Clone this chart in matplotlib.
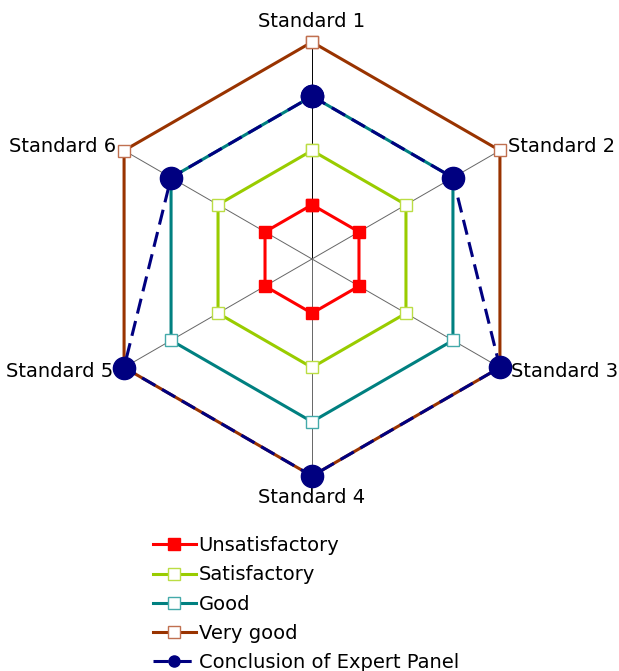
import numpy as np
import matplotlib
matplotlib.use('Agg')
import matplotlib.pyplot as plt
from matplotlib.lines import Line2D

# --- data ---
standards = ['Standard 1', 'Standard 2', 'Standard 3', 'Standard 4', 'Standard 5', 'Standard 6']
unsatisfactory = [1, 1, 1, 1, 1, 1]
satisfactory = [2, 2, 2, 2, 2, 2]
good = [3, 3, 3, 3, 3, 3]
very_good = [4, 4, 4, 4, 4, 4]
expert_panel = [3, 3, 4, 4, 4, 3]

plt.rcParams['font.family'] = ['DejaVu Sans']

W, H = 619, 671
fig = plt.figure(figsize=(W / 100, H / 100), dpi=100)
cx, cy, R = 312, 259, 217
ax = fig.add_axes([(cx - R) / W, (H - cy - R) / H, 2 * R / W, 2 * R / H], projection='polar')
ax.set_theta_offset(np.pi / 2)
ax.set_theta_direction(-1)
ax.set_ylim(0, 4)

angles = np.linspace(0, 2 * np.pi, len(standards), endpoint=False)
closed = np.append(angles, angles[0])


def close(vals):
    return np.append(vals, vals[0])


# spokes via the angular grid
ax.set_xticks(angles)
ax.set_xticklabels([])
ax.set_yticks([])
ax.spines['polar'].set_visible(False)
ax.grid(True, axis='x', color='#666666', linewidth=0.7)
ax.yaxis.grid(False)
ax.xaxis.get_gridlines()[0].set_color('black')

series = [
    ('Unsatisfactory', unsatisfactory, '#FF0000', '#FF0000', 9),
    ('Satisfactory', satisfactory, '#99CC00', 'white', 8),
    ('Good', good, '#008080', 'white', 8),
    ('Very good', very_good, '#993300', 'white', 8),
]
handles = []
for name, vals, col, face, ms in series:
    edge = col if face != 'white' else {'#99CC00': '#bbdd44', '#008080': '#44aaaa', '#993300': '#c07050'}[col]
    ax.plot(closed, close(vals), color=col, linewidth=2.2, marker='s', markersize=ms,
            markerfacecolor=face, markeredgecolor=edge, markeredgewidth=1, clip_on=False, zorder=3)
    handles.append(Line2D([], [], color=col, linewidth=2.2, marker='s', markersize=8,
                          markerfacecolor=face, markeredgecolor=edge, markeredgewidth=1))

ax.plot(closed, close(expert_panel), color='#000080', linewidth=2.2, dashes=(5, 2.5),
        marker='o', markersize=16, clip_on=False, zorder=4)
handles.append(Line2D([], [], color='#000080', linewidth=2.2, dashes=(5, 2.5),
                      marker='o', markersize=8))

# axis labels
offsets = [(0, 8, 'center', 'bottom'), (6, 3, 'left', 'center'), (8, -3, 'left', 'center'),
           (0, -9, 'center', 'top'), (-8, -3, 'right', 'center'), (-6, 3, 'right', 'center')]
for ang, lab, (dx, dy, ha, va) in zip(angles, standards, offsets):
    ax.annotate(lab, xy=(ang, 4), xytext=(dx, dy), textcoords='offset points',
                ha=ha, va=va, fontsize=14, annotation_clip=False)

fig.legend(handles, [s[0] for s in series] + ['Conclusion of Expert Panel'],
           loc='upper left', bbox_to_anchor=(153 / W, 1 - 536 / H), frameon=False,
           fontsize=14, handlelength=2.2, handletextpad=0.15, labelspacing=0.53,
           borderpad=0, borderaxespad=0)

fig.savefig('out.png', dpi=100)
